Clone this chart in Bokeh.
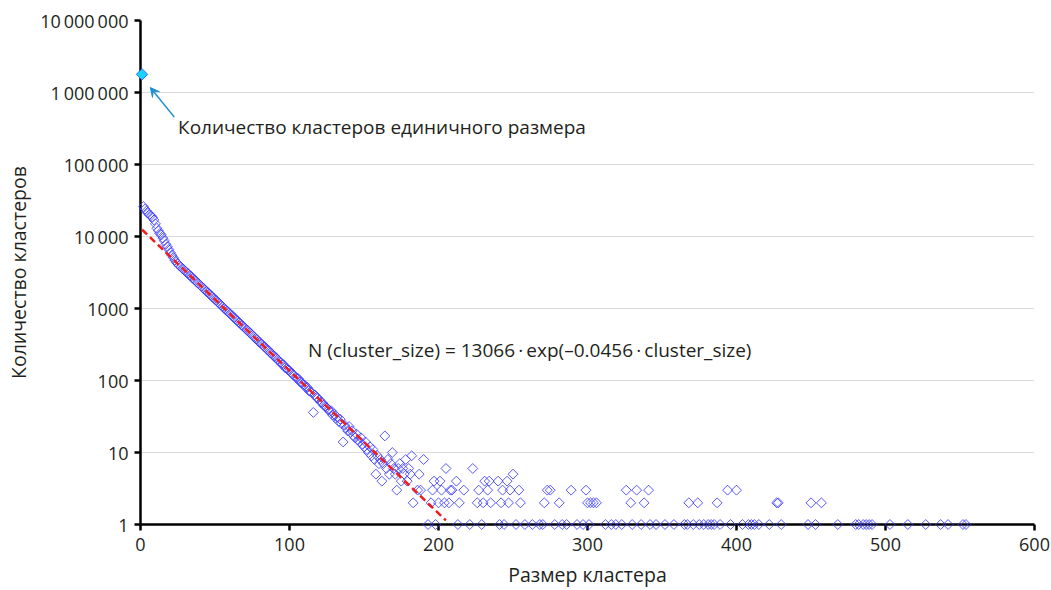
import numpy as np
from bokeh.plotting import figure
from bokeh.models import FixedTicker, Arrow, VeeHead, Label
from bokeh.embed import file_html
from bokeh.resources import INLINE

# Clusters of size 1 (shown separately)
single_size = [1]
single_count = [1790000]

# Number of clusters for every size from 2 to 181
body_first_size = 2
body_counts = [
    26000, 24000, 22500, 21000, 20000, 19500, 18500, 17000, 15000, 13000, 12000, 11000,
    10500, 9500, 8700, 7800, 7200, 6600, 6000, 5500, 5100, 4700, 4400, 4150,
    3950, 3800, 3600, 3480, 3300, 3170, 3050, 2880, 2790, 2640, 2520, 2430, 2300, 2210,
    2100, 2020, 1920, 1850, 1740, 1690, 1600, 1540, 1460, 1400, 1330, 1290, 1220, 1170,
    1110, 1070, 1010, 975,
    920, 890, 840, 815, 770, 745, 700, 675, 640, 620, 585, 560, 540, 510, 495, 465,
    450, 425, 410, 385, 375, 350, 340, 322, 312, 294, 285, 268, 262, 244, 236, 222,
    218, 205, 196, 184, 180, 168, 166, 151, 147, 140, 138, 128, 124, 117, 112, 107,
    106, 96, 94, 88, 87, 80, 80, 72, 70, 68, 36, 63, 58, 57, 54, 50,
    49, 45, 44, 42, 40, 37, 38, 33, 34, 30, 31, 27, 29, 25, 14, 24, 22, 20, 23, 19,
    20, 17, 16, 18, 15, 14, 16, 13, 12, 14, 11, 10,
    12, 9, 11, 8, 5, 9, 7, 8, 4, 7, 17, 6, 8, 5, 7, 10, 6, 5, 3, 6, 7, 4, 6, 5, 8, 4, 6, 5,
]
body_sizes = list(range(body_first_size, body_first_size + len(body_counts)))

# Sparse tail: sizes that occurred only a few times
tail_sizes = [
    182, 183, 186, 187, 188, 190, 193, 195, 196, 197, 198, 200, 201, 202, 204, 205,
    207, 208, 209, 212, 213, 214, 217, 221, 223, 226, 227, 229, 230, 231, 233, 234,
    235, 240, 241, 242, 243, 244, 246, 247, 248, 250, 252, 254, 255, 258, 263, 268,
    270, 271, 273, 275, 278, 281, 283, 286, 289, 293, 297, 299, 300, 301, 302, 304,
    306, 312, 316, 319, 323, 326, 329, 330, 333, 336, 338, 341, 342, 346, 352, 358,
    365, 367, 368, 371, 374, 375, 378, 381, 383, 385, 387, 389, 394, 396, 400, 404,
    408, 410, 412, 415, 422, 427, 428, 430, 448, 450, 453, 457, 468, 480, 482, 485,
    487, 489, 491, 503, 515, 527, 537, 542, 552, 554,
]
tail_counts = [
    9, 2, 3, 5, 3, 8, 1, 2, 3, 4, 1, 2, 4, 3, 2, 6,
    2, 3, 3, 4, 1, 2, 3, 1, 6, 2, 3, 1, 2, 4, 3, 4,
    2, 4, 1, 2, 3, 1, 4, 2, 3, 5, 1, 3, 2, 1, 1, 1,
    1, 2, 3, 3, 1, 2, 1, 1, 3, 1, 1, 3, 2, 1, 2, 2,
    2, 1, 1, 1, 1, 3, 2, 1, 3, 1, 2, 3, 1, 1, 1, 1,
    1, 1, 2, 1, 2, 1, 1, 1, 1, 1, 2, 1, 3, 1, 3, 1,
    1, 1, 1, 1, 1, 2, 2, 1, 1, 2, 1, 2, 1, 1, 1, 1,
    1, 1, 1, 1, 1, 1, 1, 1, 1, 1,
]

# Exponential fit N = A * exp(-B * size)
fit_a = 13066
fit_b = 0.0456
fit_sizes = np.linspace(1, 205, 120)
fit_counts = fit_a * np.exp(-fit_b * fit_sizes)

x_ticks = [0, 100, 200, 300, 400, 500, 600]
y_ticks = [1, 10, 100, 1000, 10000, 100000, 1000000, 10000000]
y_tick_labels = ["1", "10", "100", "1000", "10\u2009000", "100\u2009000",
                 "1\u2009000\u2009000", "10\u2009000\u2009000"]

FONT = "Open Sans"
TEXT = "#231f20"

p = figure(width=1051, height=590, y_axis_type="log",
           x_range=(0, 600), y_range=(1, 10000000),
           output_backend="svg", toolbar_location=None,
           min_border_left=140, min_border_right=17,
           min_border_top=20, min_border_bottom=66)
p.outline_line_color = None
p.background_fill_color = "white"
p.border_fill_color = "white"

p.xgrid.visible = False
p.ygrid.ticker = FixedTicker(ticks=y_ticks)
p.ygrid.grid_line_color = "#dcdcdc"
p.ygrid.grid_line_width = 1

for ax in (p.xaxis[0], p.yaxis[0]):
    ax.axis_line_color = "black"
    ax.axis_line_width = 2.5
    ax.major_tick_line_color = "black"
    ax.major_tick_line_width = 2.5
    ax.major_tick_out = 6
    ax.major_tick_in = 0
    ax.minor_tick_line_color = None
    ax.major_label_text_font = FONT
    ax.major_label_text_font_size = "18px"
    ax.major_label_text_color = TEXT
    ax.axis_label_text_font = FONT
    ax.axis_label_text_font_size = "19.5px"
    ax.axis_label_text_font_style = "normal"
    ax.axis_label_text_color = TEXT

p.xaxis.ticker = FixedTicker(ticks=x_ticks)
p.xaxis.major_label_standoff = 7
p.xaxis.axis_label = "Размер кластера"
p.xaxis.axis_label_standoff = 7

p.yaxis.ticker = FixedTicker(ticks=y_ticks)
p.yaxis.major_label_overrides = {t: s for t, s in zip(y_ticks, y_tick_labels)}
p.yaxis.major_label_standoff = 6
p.yaxis.axis_label = "Количество кластеров"
p.yaxis.axis_label_standoff = 5

# cluster counts
p.scatter(body_sizes + tail_sizes, body_counts + tail_counts,
          marker="square", angle=45, angle_units="deg", size=7,
          fill_color=None, line_color="#3c3cff", line_alpha=0.85, line_width=1,
          level="overlay")

# fitted exponential
p.line(fit_sizes, fit_counts, line_color="#ee1c1c", line_width=2.5,
       line_dash="7 4", level="overlay")

# single-size clusters
p.scatter(single_size, single_count, marker="square", angle=45, angle_units="deg",
          size=8, fill_color="#19d3ff", line_color="#2f6bff", line_width=1,
          level="overlay")

p.add_layout(Arrow(x_start=22.7, y_start=455000, x_end=6.6, y_end=1170000,
                   line_color="#1b8fcf", line_width=1.5,
                   end=VeeHead(size=9, line_color="#1b8fcf", fill_color="#1b8fcf",
                               line_width=1)))

p.add_layout(Label(x=25.2, y=327000, text="Количество кластеров единичного размера",
                   text_font=FONT, text_font_size="19px", text_color=TEXT,
                   text_baseline="middle", text_align="left"))

p.add_layout(Label(x=112.4, y=267,
                   text="N (cluster_size) = 13066\u2009·\u2009exp(–0.0456\u2009·\u2009cluster_size)",
                   text_font=FONT, text_font_size="19px", text_color=TEXT,
                   text_baseline="middle", text_align="left"))

open("out.html", "w").write(file_html(p, INLINE))
